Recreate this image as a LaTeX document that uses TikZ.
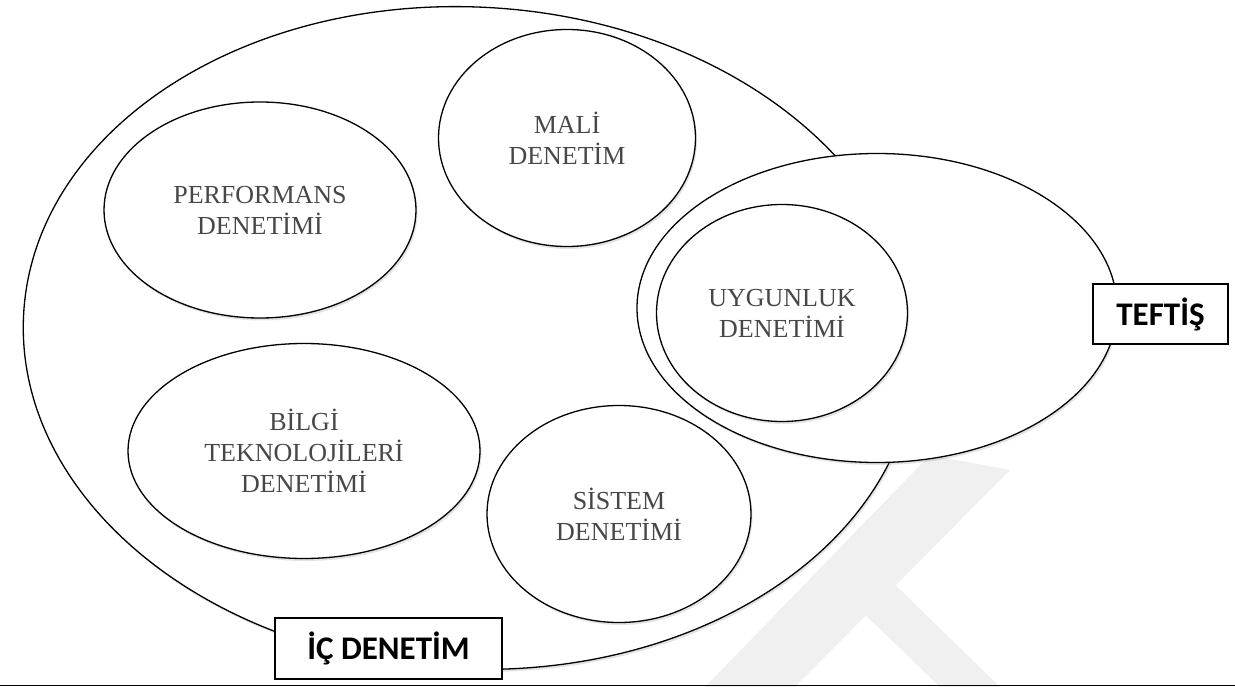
\documentclass[tikz,border=0pt]{standalone}
\usepackage{fontspec}
\setmainfont{Liberation Serif}
\newfontfamily\boxfont{Carlito}
\usetikzlibrary{shapes.geometric,shadows}
\begin{document}
\begin{tikzpicture}[x=1pt,y=-1pt,
  shad/.style={drop shadow={opacity=0.22, shadow xshift=1.5pt, shadow yshift=-2.5pt}},
  ell/.style={ellipse, draw=black, line width=1.3pt, fill=white, inner sep=0pt,
    align=center, font=\fontsize{26}{31}\selectfont, text=black!72, shad},
  lbl/.style={draw=black, line width=1.4pt, fill=white,
    font=\boxfont\bfseries\fontsize{33}{36}\selectfont, inner sep=0pt},
  wmark/.style={fill=black!6, draw=none}
]
\useasboundingbox (0,0) rectangle (1235,687);
% faint watermark behind the diagram
\fill[wmark] (705,687) -- (795,687) -- (1010,470) -- (930,455) -- cycle;
\fill[wmark] (850,600) -- (880,570) -- (1000,687) -- (940,687) -- cycle;
\node[ell, minimum width=894pt, minimum height=662pt, rotate=-3] (ic) at (470,338) {};
\node[ell, minimum width=312pt, minimum height=216pt] (perf) at (260,210) {PERFORMANS\\DENETİMİ};
\node[ell, minimum width=257pt, minimum height=217pt] (mali) at (567,138) {MALİ\\DENETİM};
\node[ell, minimum width=352pt, minimum height=215pt] (bilgi) at (304,451) {BİLGİ\\TEKNOLOJİLERİ\\DENETİMİ};
\node[ell, minimum width=264pt, minimum height=217pt] (sis) at (619,514) {SİSTEM\\DENETİMİ};
\node[ell, minimum width=480pt, minimum height=309pt] (teftis) at (877,308) {};
\node[ell, minimum width=251pt, minimum height=217pt] (uyg) at (782,313) {UYGUNLUK\\DENETİMİ};
\node[lbl, minimum width=135pt, minimum height=60pt] (tlbl) at (1160.5,314) {TEFTİŞ};
\node[lbl, minimum width=227pt, minimum height=61pt] (iclbl) at (388.5,648.5) {İÇ DENETİM};
\draw[line width=1.5pt] (0,685.5) -- (1235,685.5);
\end{tikzpicture}
\end{document}
